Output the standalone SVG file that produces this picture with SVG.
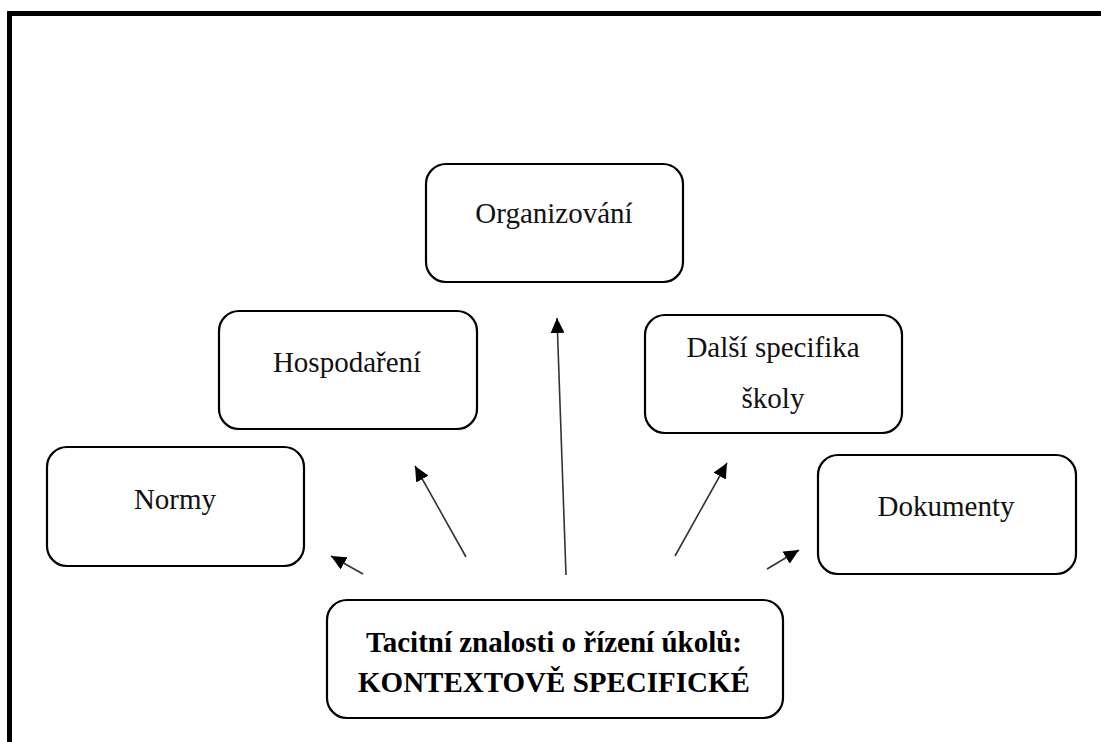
<svg xmlns="http://www.w3.org/2000/svg" width="1101" height="742" viewBox="0 0 1101 742">
  <style>
    .box { fill: #ffffff; stroke: #000000; stroke-width: 2.2; }
    .label { font-family: "Liberation Serif", "Times New Roman", serif; font-size: 29px; fill: #111111; text-anchor: middle; }
    .strong { font-weight: bold; fill: #000000; }
    .link { stroke: #333333; stroke-width: 1.6; fill: none; marker-end: url(#arrow); }
  </style>
  <defs>
    <marker id="arrow" markerUnits="userSpaceOnUse" markerWidth="16" markerHeight="14" refX="15" refY="7" orient="auto">
      <path d="M0,0 L15,7 L0,14 z" fill="#000000"/>
    </marker>
  </defs>

  <rect width="1101" height="742" fill="#ffffff"/>
  <!-- page frame -->
  <path d="M9.5,742 V13.5 H1101" fill="none" stroke="#000000" stroke-width="5"/>

  <g id="connectors">
    <line class="link" x1="363" y1="574" x2="331" y2="556"/>
    <line class="link" x1="466" y1="557" x2="415" y2="466"/>
    <line class="link" x1="566" y1="575" x2="557" y2="318"/>
    <line class="link" x1="675" y1="556" x2="727" y2="463"/>
    <line class="link" x1="767" y1="569" x2="799" y2="550"/>
  </g>

  <g id="node-organizovani">
    <rect class="box" x="426" y="164" width="257" height="118" rx="20"/>
    <text class="label" x="554" y="223">Organizování</text>
  </g>

  <g id="node-hospodareni">
    <rect class="box" x="219" y="311" width="258" height="118" rx="20"/>
    <text class="label" x="347" y="372">Hospodaření</text>
  </g>

  <g id="node-normy">
    <rect class="box" x="47" y="447" width="257" height="119" rx="20"/>
    <text class="label" x="175" y="509">Normy</text>
  </g>

  <g id="node-dalsi">
    <rect class="box" x="645" y="315" width="257" height="118" rx="20"/>
    <text class="label" x="773" y="357">Další specifika</text>
    <text class="label" x="773" y="408">školy</text>
  </g>

  <g id="node-dokumenty">
    <rect class="box" x="818" y="455" width="258" height="119" rx="20"/>
    <text class="label" x="946" y="516">Dokumenty</text>
  </g>

  <g id="node-tacitni">
    <rect class="box" x="327" y="600" width="456" height="118" rx="20"/>
    <text class="label strong" x="554" y="652">Tacitní znalosti o řízení úkolů:</text>
    <text class="label strong" x="554" y="692">KONTEXTOVĚ SPECIFICKÉ</text>
  </g>
</svg>
